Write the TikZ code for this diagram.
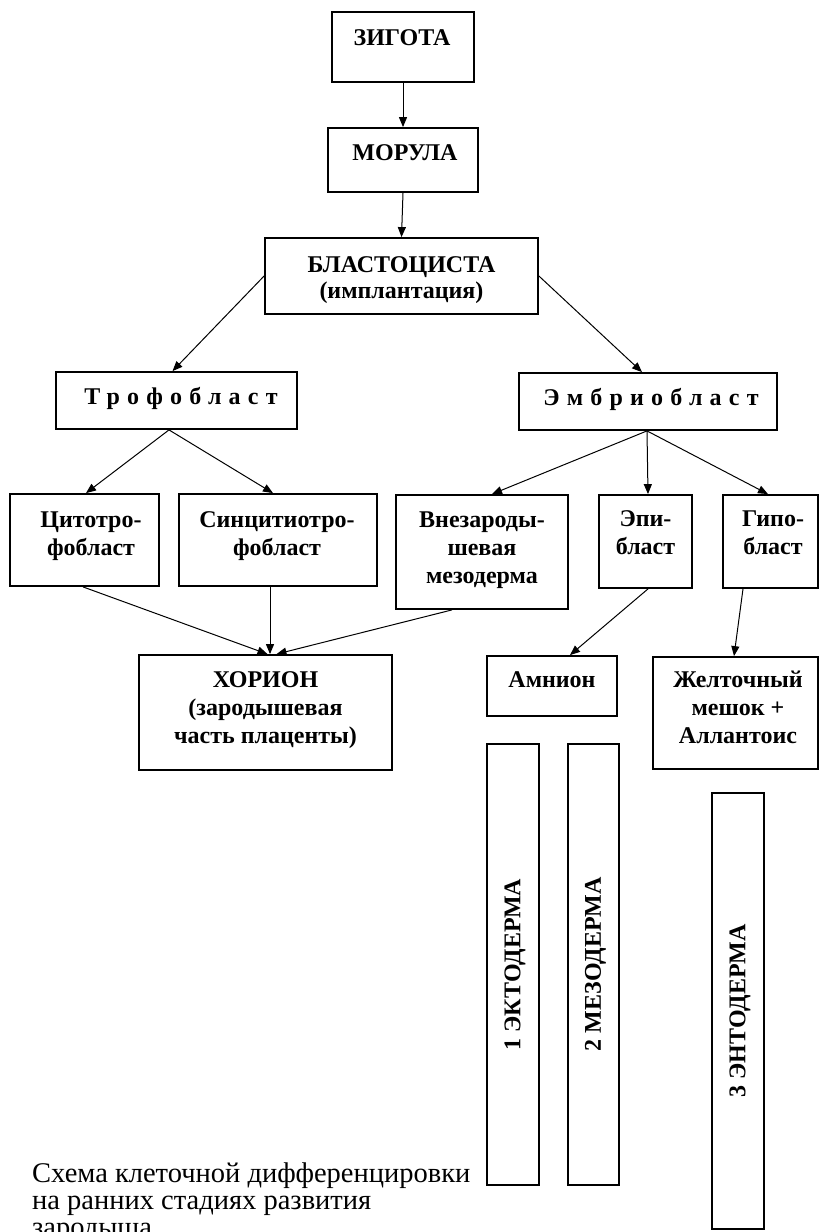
\documentclass[tikz,border=0pt]{standalone}
\usepackage{fontspec}
\setmainfont{Liberation Serif}
\usetikzlibrary{arrows.meta}
\begin{document}
\begin{tikzpicture}[x=1pt,y=-1pt,
  box/.style={draw, line width=1.8pt, rectangle, inner sep=0pt},
  lbl/.style={font=\fontsize{24}{28}\selectfont\bfseries, align=center, inner sep=0pt, anchor=base},
  sp/.style={font=\fontsize{24}{28}\selectfont\bfseries\addfontfeature{LetterSpace=30}, inner sep=0pt, anchor=base},
  vlbl/.style={font=\fontsize{24}{28}\selectfont\bfseries, inner sep=0pt, rotate=90},
  capt/.style={font=\fontsize{28.5}{27}\selectfont, align=left, inner sep=0pt, anchor=base west},
  arr/.style={line width=1pt, -{Triangle[length=10pt,width=8pt]}}
]
\useasboundingbox[fill=white] (0,0) rectangle (822,1232);
% boxes
\node[box, minimum width=142pt, minimum height=70pt] (zyg) at (403,47) {};
\node[box, minimum width=150pt, minimum height=64pt] (mor) at (403,160) {};
\node[box, minimum width=273pt, minimum height=76pt] (bla) at (401.5,276) {};
\node[box, minimum width=241pt, minimum height=57pt] (tro) at (176.5,400.5) {};
\node[box, minimum width=258pt, minimum height=57pt] (emb) at (648,401.5) {};
\node[box, minimum width=149pt, minimum height=92pt] (cyt) at (84.5,540) {};
\node[box, minimum width=198pt, minimum height=92pt] (syn) at (278,540) {};
\node[box, minimum width=172pt, minimum height=114pt] (vne) at (482,552) {};
\node[box, minimum width=93pt, minimum height=93pt] (epi) at (645.5,541.5) {};
\node[box, minimum width=95pt, minimum height=93pt] (hyp) at (770.5,541.5) {};
\node[box, minimum width=253pt, minimum height=115pt] (cho) at (265.5,712.5) {};
\node[box, minimum width=130pt, minimum height=60pt] (amn) at (552,686) {};
\node[box, minimum width=165pt, minimum height=112pt] (yol) at (735.5,713) {};
\node[box, minimum width=52pt, minimum height=441pt] (ect) at (513,964.5) {};
\node[box, minimum width=51pt, minimum height=441pt] (mes) at (593.5,964.5) {};
\node[box, minimum width=52pt, minimum height=436pt] (ent) at (738,1011) {};
% labels (anchor = baseline of last line)
\node[lbl] (zygL) at (402,45) {ЗИГОТА};
\node[lbl] (morL) at (405,160) {МОРУЛА};
\node[lbl, font=\fontsize{24}{26}\selectfont\bfseries] (blaL) at (401.5,298) {БЛАСТОЦИСТА\\(имплантация)};
\node[sp] (troL) at (181,404) {Трофобласт};
\node[sp] (embL) at (651,405) {Эмбриобласт};
\node[lbl] (cytL) at (91,555) {Цитотро-\\фобласт};
\node[lbl] (synL) at (277,555) {Синцитиотро-\\фобласт};
\node[lbl] (vneL) at (482,583) {Внезароды-\\шевая\\мезодерма};
\node[lbl] (epiL) at (645.5,554) {Эпи-\\бласт};
\node[lbl] (hypL) at (773,554) {Гипо-\\бласт};
\node[lbl] (choL) at (265.5,743) {ХОРИОН\\(зародышевая\\часть плаценты)};
\node[lbl] (amnL) at (552,687) {Амнион};
\node[lbl] (yolL) at (738,743) {Желточный\\мешок +\\Аллантоис};
\node[vlbl] (ectL) at ([xshift=2pt]ect.center) {1 ЭКТОДЕРМА};
\node[vlbl] (mesL) at ([xshift=2pt]mes.center) {2 МЕЗОДЕРМА};
\node[vlbl] (entL) at ([xshift=2pt]ent.center) {3 ЭНТОДЕРМА};
\node[capt] (cap) at (32,1236) {Схема клеточной дифференцировки\\на ранних стадиях развития\\зародыша};
% connectors
\draw[arr] (zyg.south) -- (mor.north);
\draw[arr] (mor.south) -- (bla.north);
\draw[arr] (bla.west) -- ([xshift=-4pt]tro.north);
\draw[arr] (bla.east) -- ([xshift=-6pt]emb.north);
\draw[arr] ([xshift=-7.5pt]tro.south) -- ([xshift=1.5pt]cyt.north);
\draw[arr] ([xshift=-7.5pt]tro.south) -- ([xshift=-5pt]syn.north);
\draw[arr] ([xshift=-1pt]emb.south) -- ([xshift=10pt]vne.north);
\draw[arr] ([xshift=-1pt]emb.south) -- ([xshift=2.5pt]epi.north);
\draw[arr] ([xshift=-1pt]emb.south) -- ([xshift=-2.5pt]hyp.north);
\draw[arr] ([xshift=-1.5pt]cyt.south) -- ([xshift=2pt]cho.north);
\draw[arr] ([xshift=-8pt]syn.south) -- ([xshift=4.5pt]cho.north);
\draw[arr] ([xshift=-30pt]vne.south) -- ([xshift=11pt]cho.north);
\draw[arr] ([xshift=2.5pt]epi.south) -- ([xshift=18pt]amn.north);
\draw[arr] ([xshift=-27.5pt]hyp.south) -- ([xshift=-1.5pt]yol.north);
\end{tikzpicture}
\end{document}
